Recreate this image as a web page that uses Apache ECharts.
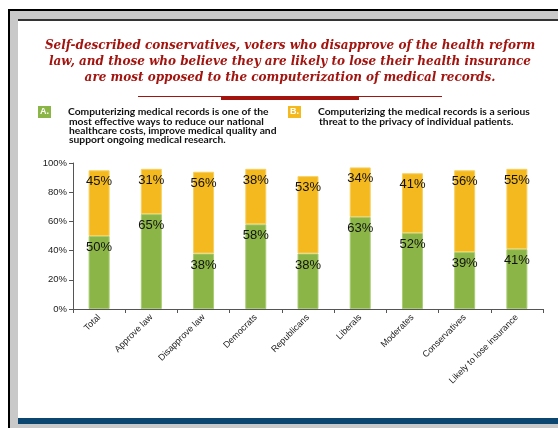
<!DOCTYPE html>
<html>
<head>
<meta charset="utf-8">
<script src="https://cdn.jsdelivr.net/npm/echarts@6/dist/echarts.min.js"></script>
<style>
  html, body { margin: 0; padding: 0; background: #fff; }
  #chart { width: 558px; height: 428px; }
</style>
</head>
<body>
<div id="chart"></div>
<script>
// Survey groups shown along the x axis
const categories = ['Total', 'Approve law', 'Disapprove law', 'Democrats', 'Republicans',
  'Liberals', 'Moderates', 'Conservatives', 'Likely to lose insurance'];

// A: computerizing records reduces costs / improves quality (%)
const reduceCosts = [50, 65, 38, 58, 38, 63, 52, 39, 41];
// B: computerizing records threatens patient privacy (%)
const privacyThreat = [45, 31, 56, 38, 53, 34, 41, 56, 55];

const yTicks = [0, 20, 40, 60, 80, 100];

const titleLines = [
  'Self-described conservatives, voters who disapprove of the health reform',
  'law, and those who believe they are likely to lose their health insurance',
  'are most opposed to the computerization of medical records.'
];
const statementA = [
  'Computerizing medical records is one of the',
  'most effective ways to reduce our national',
  'healthcare costs, improve medical quality and',
  'support ongoing medical research.'
];
const statementB = [
  'Computerizing the medical records is a serious',
  'threat to the privacy of individual patients.'
];

const GREEN = '#8bb546';
const ORANGE = '#f4b91f';
const TITLE_RED = '#a3140f';

const chart = echarts.init(document.getElementById('chart'), null, { renderer: 'canvas' });

function rect(x, y, w, h, fill, z) {
  return { type: 'rect', shape: { x, y, width: w, height: h }, style: { fill }, z: z || 0, silent: true };
}

const frame = [
  rect(8, 9, 2, 419, '#000'),
  rect(8, 9, 550, 2, '#000'),
  rect(10, 11, 8, 417, '#c9c9c9'),
  rect(10, 11, 548, 8, '#c9c9c9'),
  rect(18, 19, 540, 2, '#333'),
  rect(18, 418, 540, 6, '#0b4671'),
  rect(10, 424, 548, 4, '#c9c9c9'),
  // rule under the headline
  rect(138, 96, 304, 1, TITLE_RED),
  rect(221, 97, 138, 3, TITLE_RED)
];

const titleTexts = titleLines.map((t, i) => ({
  type: 'text', silent: true,
  x: 290, y: 46 + i * 16,
  style: {
    text: t, fill: TITLE_RED, align: 'center', verticalAlign: 'middle',
    font: 'italic bold 12px "DejaVu Serif", serif'
  }
}));

function legendBlock(x, boxColor, letter, lines) {
  const els = [
    rect(x, 106, 13, 12, boxColor),
    { type: 'text', silent: true, x: x + 6.5, y: 112,
      style: { text: letter, fill: '#fff', align: 'center', verticalAlign: 'middle',
        font: 'bold 9px "Liberation Sans", sans-serif' } }
  ];
  lines.forEach((t, i) => {
    els.push({ type: 'text', silent: true, x: x + 30 + (i > 0 ? 1 : 0), y: 112 + i * 9.3,
      style: { text: t, fill: '#111', align: 'left', verticalAlign: 'middle',
        font: 'bold 10.3px Lato, sans-serif' } });
  });
  return els;
}

const barLabel = {
  show: true, position: 'insideTop', distance: 5,
  formatter: '{c}%', color: '#111', fontSize: 13,
  fontFamily: '"Liberation Sans", Arial, sans-serif'
};

chart.setOption({
  animation: false,
  backgroundColor: '#fff',
  graphic: [].concat(frame, titleTexts,
    legendBlock(38, GREEN, 'A.', statementA),
    legendBlock(288, ORANGE, 'B.', statementB)),
  grid: { left: 73, right: 15, top: 163, bottom: 119 },
  xAxis: {
    type: 'category',
    data: categories,
    boundaryGap: true,
    axisLine: { lineStyle: { color: '#555', width: 1 } },
    axisTick: { show: true, length: 4, lineStyle: { color: '#555' } },
    axisLabel: {
      rotate: 45, interval: 0, margin: 7,
      fontSize: 9, color: '#222', fontFamily: '"Liberation Sans", Arial, sans-serif'
    }
  },
  yAxis: {
    type: 'value',
    min: yTicks[0], max: yTicks[yTicks.length - 1], interval: 20,
    axisLine: { show: true, lineStyle: { color: '#555', width: 1 } },
    axisTick: { show: true, length: 4, lineStyle: { color: '#555' } },
    splitLine: { show: false },
    axisLabel: {
      formatter: '{value}%', margin: 6,
      fontSize: 9.5, color: '#222', fontFamily: '"Liberation Sans", Arial, sans-serif'
    }
  },
  series: [
    {
      name: 'A', type: 'bar', stack: 'total', barWidth: 21,
      data: reduceCosts,
      itemStyle: { color: GREEN, borderColor: '#a9cc74', borderWidth: 1 },
      label: barLabel
    },
    {
      name: 'B', type: 'bar', stack: 'total', barWidth: 21,
      data: privacyThreat,
      itemStyle: { color: ORANGE, borderColor: '#f8d060', borderWidth: 1 },
      label: barLabel
    }
  ]
});
</script>
</body>
</html>
